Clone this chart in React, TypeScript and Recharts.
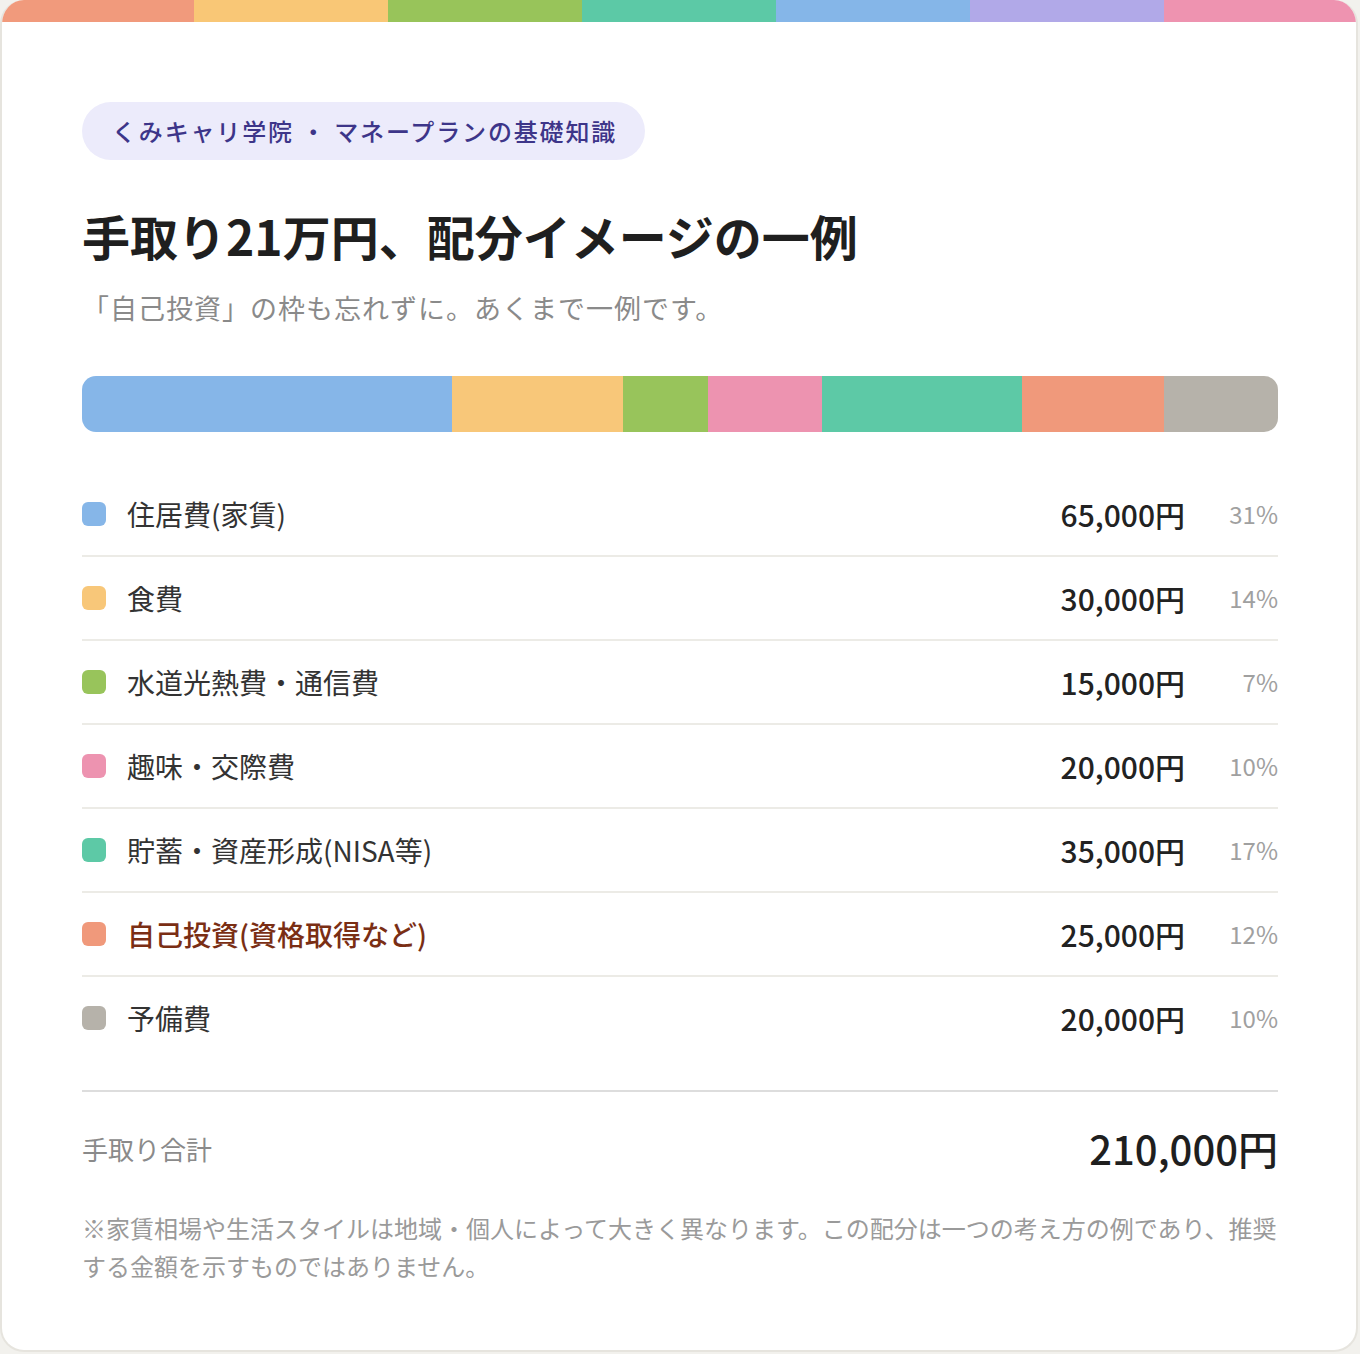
import React from "react";
import { BarChart, Bar, XAxis, YAxis } from "recharts";

const categories = [
  "住居費(家賃)",
  "食費",
  "水道光熱費・通信費",
  "趣味・交際費",
  "貯蓄・資産形成(NISA等)",
  "自己投資(資格取得など)",
  "予備費",
];
const amounts = [65000, 30000, 15000, 20000, 35000, 25000, 20000];
const colors = ["#86b6e8", "#f8c779", "#98c45b", "#ed93b0", "#5dc9a6", "#f0997b", "#b6b2aa"];
const highlightIndex = 5;
const stripeColors = ["#f19a7c", "#f9c776", "#98c45a", "#5cc9a6", "#85b6e8", "#b1a9e8", "#ee93b0"];

const badgeText = "くみキャリ学院 ・ マネープランの基礎知識";
const titleText = "手取り21万円、配分イメージの一例";
const subtitleText = "「自己投資」の枠も忘れずに。あくまで一例です。";
const totalLabel = "手取り合計";
const noteLine1 = "※家賃相場や生活スタイルは地域・個人によって大きく異なります。この配分は一つの考え方の例であり、推奨";
const noteLine2 = "する金額を示すものではありません。";

const total = amounts.reduce((a, b) => a + b, 0);
const keys = categories.map((_, i) => `k${i}`);
const barRow: Record<string, any> = { name: "total" };
keys.forEach((k, i) => (barRow[k] = amounts[i]));
const barData = [barRow];

const FONT = '"Noto Sans CJK JP", "Noto Sans", sans-serif';

export default function App() {
  return (
    <div
      style={{
        position: "absolute",
        left: 0,
        top: 0,
        width: 1360,
        height: 1354,
        background: "#f2f1ed",
        fontFamily: FONT,
      }}
    >
      <div
        style={{
          position: "absolute",
          left: 0,
          top: 0,
          width: 1358,
          height: 1352,
          boxSizing: "border-box",
          border: "2px solid #e6e4de",
          borderTop: "none",
          borderRadius: 24,
          background: "#ffffff",
          overflow: "hidden",
        }}
      >
        <div style={{ display: "flex", height: 22, marginLeft: -2, marginRight: -2 }}>
          {stripeColors.map((c, i) => (
            <div key={i} style={{ flex: 1, background: c }} />
          ))}
        </div>
        <div style={{ padding: "80px 78px 0 80px" }}>
          <div
            style={{
              display: "inline-block",
              height: 58,
              lineHeight: "58px",
              padding: "0 28px 0 30px",
              borderRadius: 29,
              background: "#ecebfb",
              color: "#3d3589",
              fontSize: 24,
              fontWeight: 500,
              letterSpacing: 1.85,
            }}
          >
            {badgeText}
          </div>
          <div
            style={{
              marginTop: 44,
              fontSize: 48,
              fontWeight: 700,
              lineHeight: "62px",
              color: "#1f1f1f",
            }}
          >
            {titleText}
          </div>
          <div
            style={{
              marginTop: 22,
              fontSize: 27,
              lineHeight: "40px",
              color: "#8a8a8a",
              letterSpacing: 1,
            }}
          >
            {subtitleText}
          </div>
          <div
            style={{
              marginTop: 48,
              width: 1196,
              height: 56,
              borderRadius: 14,
              overflow: "hidden",
              shapeRendering: "crispEdges",
            } as React.CSSProperties}
          >
            <BarChart
              width={1196}
              height={56}
              data={barData}
              layout="vertical"
              margin={{ top: 0, right: 0, bottom: 0, left: 0 }}
              barCategoryGap={0}
            >
              <XAxis type="number" domain={[0, total]} hide />
              <YAxis type="category" dataKey="name" hide />
              {keys.map((k, i) => (
                <Bar key={k} dataKey={k} stackId="a" fill={colors[i]} isAnimationActive={false} />
              ))}
            </BarChart>
          </div>
          <div style={{ marginTop: 41, width: 1196 }}>
            {categories.map((cat, i) => (
              <div
                key={cat}
                style={{
                  display: "flex",
                  alignItems: "center",
                  height: 82,
                  borderBottom: i < categories.length - 1 ? "2px solid #ecebe6" : "none",
                }}
              >
                <div
                  style={{
                    width: 24,
                    height: 24,
                    borderRadius: 6,
                    background: colors[i],
                    flexShrink: 0,
                  }}
                />
                <div
                  style={{
                    marginLeft: 21,
                    flex: 1,
                    fontSize: 28,
                    lineHeight: "40px",
                    marginTop: -1,
                    color: i === highlightIndex ? "#7a2e14" : "#333333",
                    fontWeight: i === highlightIndex ? 500 : 400,
                  }}
                >
                  {cat}
                </div>
                <div style={{ fontSize: 30, lineHeight: "40px", marginTop: -1, fontWeight: 500, color: "#222222" }}>
                  {amounts[i].toLocaleString("en-US")}円
                </div>
                <div
                  style={{
                    width: 72,
                    marginLeft: 21,
                    textAlign: "right",
                    fontSize: 24,
                    lineHeight: "40px",
                    marginTop: -1,
                    color: "#a0a0a0",
                  }}
                >
                  {Math.round((amounts[i] / total) * 100)}%
                </div>
              </div>
            ))}
          </div>
          <div style={{ marginTop: 31, width: 1196, borderTop: "2px solid #dddddd" }}>
            <div
              style={{
                marginTop: 33,
                height: 46,
                display: "flex",
                alignItems: "center",
                justifyContent: "space-between",
              }}
            >
              <div style={{ fontSize: 26, color: "#8a8a8a" }}>{totalLabel}</div>
              <div style={{ fontSize: 40, fontWeight: 500, color: "#1f1f1f" }}>
                {total.toLocaleString("en-US")}円
              </div>
            </div>
          </div>
          <div
            style={{
              marginTop: 38,
              width: 1196,
              fontSize: 24,
              lineHeight: "38px",
              color: "#9a9a9a",
            }}
          >
            {noteLine1}
            <br />
            {noteLine2}
          </div>
        </div>
      </div>
    </div>
  );
}
